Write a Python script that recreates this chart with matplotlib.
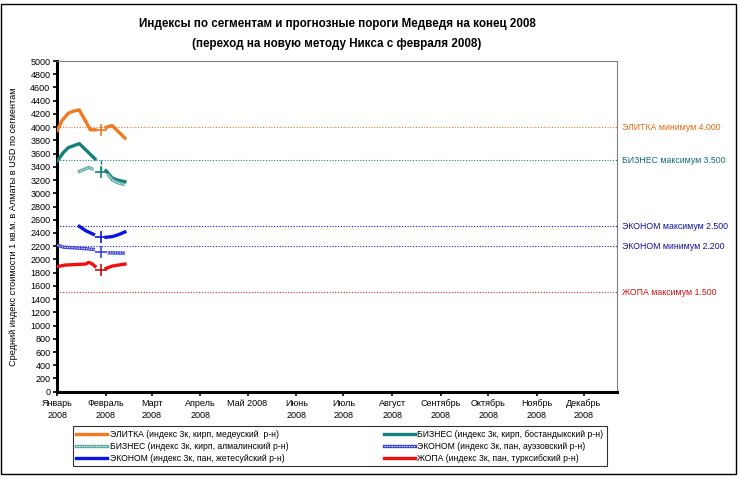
import matplotlib
matplotlib.use("Agg")
import matplotlib.pyplot as plt
from matplotlib.lines import Line2D
from matplotlib.patches import Rectangle
from matplotlib.legend_handler import HandlerTuple
from matplotlib.transforms import blended_transform_factory
import pandas as pd

plt.rcParams['font.family'] = ['Liberation Sans', 'DejaVu Sans']

# ---------------- data ----------------
elit_old_dates = ['2008-01-01', '2008-01-04', '2008-01-08', '2008-01-11', '2008-01-15', '2008-01-22', '2008-01-25']
elit_old_vals = [3950, 4100, 4210, 4240, 4260, 3960, 3960]
elit_new_dates = ['2008-02-01', '2008-02-04', '2008-02-05', '2008-02-13']
elit_new_vals = [3995, 4020, 4020, 3835]

bost_old_dates = ['2008-01-01', '2008-01-05', '2008-01-08', '2008-01-15', '2008-01-25']
bost_old_vals = [3490, 3620, 3690, 3750, 3520]
bost_new_dates = ['2008-02-01', '2008-02-05', '2008-02-09', '2008-02-13']
bost_new_vals = [3340, 3230, 3195, 3175]

alm_old_dates = ['2008-01-14', '2008-01-21', '2008-01-24']
alm_old_vals = [3320, 3390, 3360]
alm_new_dates = ['2008-02-02', '2008-02-05', '2008-02-09', '2008-02-13']
alm_new_vals = [3290, 3200, 3155, 3130]

auez_old_dates = ['2008-01-01', '2008-01-05', '2008-01-15', '2008-01-25']
auez_old_vals = [2218, 2185, 2170, 2150]
auez_new_dates = ['2008-02-02', '2008-02-13']
auez_new_vals = [2100, 2095]

zhet_old_dates = ['2008-01-15', '2008-01-19', '2008-01-24']
zhet_old_vals = [2500, 2435, 2380]
zhet_new_dates = ['2008-02-01', '2008-02-05', '2008-02-09', '2008-02-13']
zhet_new_vals = [2335, 2345, 2375, 2415]

turk_old_dates = ['2008-01-01', '2008-01-06', '2008-01-19', '2008-01-21', '2008-01-23', '2008-01-25']
turk_old_vals = [1890, 1915, 1930, 1955, 1935, 1895]
turk_new_dates = ['2008-02-01', '2008-02-05', '2008-02-13']
turk_new_vals = [1865, 1900, 1930]

# transition markers (switch to new methodology)
switch_date = '2008-01-29'
switch_vals = {'elit': 3960, 'bost': 3320, 'zhet': 2335, 'auez': 2105, 'turk': 1845}
bost_switch_top = 3500

thresholds = [4000, 3500, 2500, 2200, 1500]
threshold_labels = ['ЭЛИТКА минимум 4.000', 'БИЗНЕС максимум 3.500', 'ЭКОНОМ максимум 2.500',
                    'ЭКОНОМ минимум 2.200', 'ЖОПА максимум 1.500']
month_labels = ['Январь\n2008', 'Февраль\n2008', 'Март\n2008', 'Апрель\n2008', 'Май 2008\n ',
                'Июнь\n2008', 'Июль\n2008', 'Август\n2008', 'Сентябрь\n2008', 'Октябрь\n2008',
                'Ноябрь\n2008', 'Декабрь\n2008']
legend_labels = {
    'elit': 'ЭЛИТКА (индекс 3к, кирп, медеуский  р-н)',
    'bost': 'БИЗНЕС (индекс 3к, кирп, бостандыкский р-н)',
    'alm': 'БИЗНЕС (индекс 3к, кирп, алмалинский р-н)',
    'auez': 'ЭКОНОМ (индекс 3к, пан, ауэзовский р-н)',
    'zhet': 'ЭКОНОМ (индекс 3к, пан, жетесуйский р-н)',
    'turk': 'ЖОПА (индекс 3к, пан, турксибский р-н)',
}

# ---------------- styles ----------------
C_ORANGE = '#F07A20'
C_TEAL = '#157F7B'
C_LTEAL = '#5FA9A3'
C_BLUE = '#0A14E6'
C_HBLUE = '#3A44D8'
C_RED = '#F01010'
thr_colors = ['#E8762A', '#1A8080', '#1010C8', '#2020B0', '#E02020']
txt_colors = ['#E06A10', '#107070', '#10109A', '#10109A', '#D01010']

W, H = 740, 479
fig = plt.figure(figsize=(W / 100, H / 100), dpi=100)
L, R, T, B = 57.3, 617, 61, 391.7
ax = fig.add_axes([L / W, 1 - B / H, (R - L) / W, (B - T) / H])

d = lambda lst: pd.to_datetime(lst)
LW = 2.4

def hatched(dates, vals, color):
    ax.plot(d(dates), vals, color=color, lw=LW, solid_capstyle='butt', zorder=3)
    ax.plot(d(dates), vals, color='white', lw=0.8, ls=(0, (1, 1.2)), zorder=4)

ax.plot(d(elit_old_dates), elit_old_vals, color=C_ORANGE, lw=LW, zorder=3)
ax.plot(d(elit_new_dates), elit_new_vals, color=C_ORANGE, lw=LW, zorder=3)
ax.plot(d(bost_old_dates), bost_old_vals, color=C_TEAL, lw=LW, zorder=3)
ax.plot(d(bost_new_dates), bost_new_vals, color=C_TEAL, lw=LW, zorder=3)
ax.plot(d([switch_date, switch_date]), [bost_switch_top, switch_vals['bost']], color=C_TEAL,
        lw=1.0, ls=(0, (3, 2)), zorder=3)
hatched(alm_old_dates, alm_old_vals, C_LTEAL)
hatched(alm_new_dates, alm_new_vals, C_LTEAL)
hatched(auez_old_dates, auez_old_vals, C_HBLUE)
hatched(auez_new_dates, auez_new_vals, C_HBLUE)
ax.plot(d(zhet_old_dates), zhet_old_vals, color=C_BLUE, lw=LW, zorder=3)
ax.plot(d(zhet_new_dates), zhet_new_vals, color=C_BLUE, lw=LW, zorder=3)
ax.plot(d(turk_old_dates), turk_old_vals, color=C_RED, lw=LW, zorder=3)
ax.plot(d(turk_new_dates), turk_new_vals, color=C_RED, lw=LW, zorder=3)

mk_colors = {'elit': C_ORANGE, 'bost': C_TEAL, 'zhet': C_BLUE, 'auez': C_HBLUE, 'turk': '#C01010'}
for k, v in switch_vals.items():
    ax.plot(d([switch_date]), [v], marker='+', ms=8, mew=1.2, color=mk_colors[k], zorder=5)

trans = blended_transform_factory(ax.transAxes, ax.transData)
for y, lab, c, tc in zip(thresholds, threshold_labels, thr_colors, txt_colors):
    ax.axhline(y, color=c, lw=0.8, ls=(0, (1, 1.5)), zorder=2)
    ax.text(1.009, y, lab, transform=trans, color=tc, fontsize=6.3, va='center', ha='left',
            clip_on=False)

# axes
x0 = pd.Timestamp('2008-01-01')
ax.set_xlim(x0, x0 + pd.Timedelta(days=356))
ax.set_ylim(0, 5000)
ax.set_yticks(range(0, 5001, 200))
ax.tick_params(axis='y', labelsize=6.5, length=3, width=1.2, pad=2)
ticks = pd.date_range('2008-01-01', periods=12, freq='MS')
ax.set_xticks(ticks)
ax.set_xticklabels(month_labels, fontsize=6.5, linespacing=1.5)
ax.tick_params(axis='x', length=3, width=1.2, pad=2)
for s in ['left', 'bottom']:
    ax.spines[s].set_linewidth(2.2)
    ax.spines[s].set_color('black')
for s in ['top', 'right']:
    ax.spines[s].set_linewidth(0.8)
    ax.spines[s].set_color('#808080')
ax.set_ylabel('Средний индекс стоимости 1 кв.м. в Алматы в USD по сегментам', fontsize=6.6, labelpad=9)

fig.text(337 / W, 1 - 24 / H, 'Индексы по сегментам и прогнозные пороги Медведя на конец 2008',
         ha='center', va='center', fontsize=8.4, fontweight='bold')
fig.text(337 / W, 1 - 44.5 / H, '(переход на новую методу Никса с февраля 2008)',
         ha='center', va='center', fontsize=8.4, fontweight='bold')

# legend
def solid(c):
    return Line2D([], [], color=c, lw=LW)
def hatch_h(c):
    return (Line2D([], [], color=c, lw=LW), Line2D([], [], color='white', lw=0.8, ls=(0, (1, 1.2))))

handles = [solid(C_ORANGE), hatch_h(C_LTEAL), solid(C_BLUE), solid(C_TEAL), hatch_h(C_HBLUE), solid(C_RED)]
labels = [legend_labels[k] for k in ['elit', 'alm', 'zhet', 'bost', 'auez', 'turk']]
leg = fig.legend(handles, labels, ncol=2, loc='lower left',
                 bbox_to_anchor=(73 / W, 1 - 466 / H, (607 - 73) / W, (466 - 403) / H),
                 mode='expand', fontsize=6.2, handlelength=3.6, handletextpad=0.3,
                 borderaxespad=0, frameon=True, fancybox=False, edgecolor='black',
                 labelspacing=0.35, borderpad=0.4, columnspacing=2,
                 handler_map={tuple: HandlerTuple(ndivide=1, pad=0)})
leg.get_frame().set_linewidth(0.8)

fig.patches.append(Rectangle((1 / W, 1 - 474 / H), (736 - 1) / W, (474 - 4) / H,
                             transform=fig.transFigure, fill=False, ec='black', lw=1))

fig.savefig('out.png', dpi=100)
